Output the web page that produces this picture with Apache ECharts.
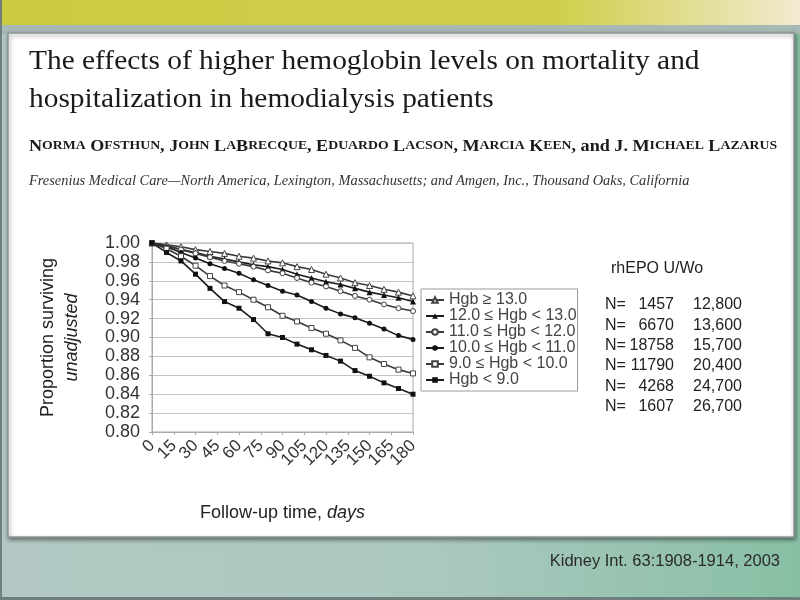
<!DOCTYPE html>
<html><head><meta charset="utf-8">
<script src="https://cdn.jsdelivr.net/npm/echarts@6/dist/echarts.min.js"></script>
<style>html,body{margin:0;padding:0;background:#fff}#c{width:800px;height:600px}</style>
</head><body><div id="c"></div>
<script>
// ---- data ----
const days = [0,10,20,30,40,50,60,70,80,90,100,110,120,130,140,150,160,170,180];
const xTicks = ['0','15','30','45','60','75','90','105','120','135','150','165','180'];
const yTicks = [0.80,0.82,0.84,0.86,0.88,0.90,0.92,0.94,0.96,0.98,1.00];
const seriesNames = ['Hgb \u2265 13.0','12.0 \u2264 Hgb < 13.0','11.0 \u2264 Hgb < 12.0','10.0 \u2264 Hgb < 11.0','9.0 \u2264 Hgb < 10.0','Hgb < 9.0'];
const hgbGe13   = [1.000,0.998,0.996,0.993,0.991,0.989,0.986,0.984,0.981,0.979,0.975,0.972,0.967,0.963,0.958,0.955,0.951,0.948,0.944];
const hgb12to13 = [1.000,0.997,0.993,0.990,0.986,0.983,0.980,0.977,0.975,0.972,0.967,0.963,0.959,0.956,0.952,0.948,0.945,0.942,0.938];
const hgb11to12 = [1.000,0.997,0.993,0.989,0.985,0.981,0.978,0.975,0.971,0.968,0.963,0.958,0.954,0.949,0.944,0.940,0.935,0.931,0.928];
const hgb10to11 = [1.000,0.996,0.990,0.984,0.978,0.973,0.968,0.961,0.955,0.949,0.945,0.938,0.931,0.925,0.921,0.915,0.909,0.902,0.898];
const hgb9to10  = [1.000,0.994,0.986,0.976,0.965,0.955,0.948,0.940,0.932,0.923,0.917,0.910,0.904,0.897,0.889,0.879,0.872,0.866,0.862];
const hgbLt9    = [1.000,0.990,0.981,0.967,0.952,0.938,0.931,0.919,0.904,0.900,0.893,0.887,0.881,0.875,0.865,0.859,0.852,0.846,0.840];
const groupN    = ['1457','6670','18758','11790','4268','1607'];
const groupEPO  = ['12,800','13,600','15,700','20,400','24,700','26,700'];

const titleLines = ['The effects of higher hemoglobin levels on mortality and','hospitalization in hemodialysis patients'];
const authors = 'Norma Ofsthun, John LaBrecque, Eduardo Lacson, Marcia Keen, and J. Michael Lazarus';
const affiliation = 'Fresenius Medical Care\u2014North America, Lexington, Massachusetts; and Amgen, Inc., Thousand Oaks, California';
const citation = 'Kidney Int. 63:1908-1914, 2003';

// ---- styles ----
const SANS = '"Liberation Sans", Arial, sans-serif';
const SERIF = '"Liberation Serif", "Times New Roman", serif';
const allSeries = [hgbGe13,hgb12to13,hgb11to12,hgb10to11,hgb9to10,hgbLt9];
const symbols = ['triangle','triangle','circle','circle','rect','rect'];
const filled = [false,true,false,true,false,true];

function smallCaps(str){
  const words = str.split(' ');
  let out = '';
  words.forEach((w, wi) => {
    if (wi > 0) out += '{B| }';
    if (w === 'and') { out += '{N|and}'; return; }
    let cur = null, buf = '';
    for (const ch of w) {
      const st = (ch >= 'a' && ch <= 'z') ? 'S' : 'B';
      const c = st === 'S' ? ch.toUpperCase() : ch;
      if (st !== cur) { if (buf) out += '{' + cur + '|' + buf + '}'; cur = st; buf = c; }
      else buf += c;
    }
    if (buf) out += '{' + cur + '|' + buf + '}';
  });
  return out;
}

const chart = echarts.init(document.getElementById('c'), null, {renderer:'canvas'});

const graphics = [
  {type:'rect', z:-20, shape:{x:0,y:0,width:800,height:600},
   style:{fill:new echarts.graphic.LinearGradient(0,0,1,0,[{offset:0,color:'#b3c8c4'},{offset:0.55,color:'#abc8bf'},{offset:1,color:'#88bfa4'}])}},
  {type:'rect', z:-19, shape:{x:0,y:0,width:800,height:25},
   style:{fill:new echarts.graphic.LinearGradient(0,0,1,0,[{offset:0,color:'#cbcb42'},{offset:0.7,color:'#cfcf4c'},{offset:1,color:'#f2ead0'}])}},
  {type:'rect', z:-19, shape:{x:0,y:25,width:800,height:9}, style:{fill:'#a8b8b5'}},
  {type:'rect', z:-18, shape:{x:0,y:0,width:2,height:600}, style:{fill:'#6f7f7d'}},
  {type:'rect', z:-18, shape:{x:0,y:597,width:800,height:3}, style:{fill:'#6f7f7d'}},
  {type:'rect', z:-17, shape:{x:8,y:33,width:786,height:504},
   style:{fill:'#ffffff', stroke:'#8f9898', lineWidth:1.5, shadowBlur:4, shadowColor:'rgba(0,0,0,0.45)', shadowOffsetX:1, shadowOffsetY:2}},
  {type:'text', z:5, x:29, y:62, scaleX:1.05, style:{x:0, y:0, text:titleLines[0], font:'28px ' + SERIF, fill:'#1a1a1a', verticalAlign:'middle'}},
  {type:'text', z:5, x:29, y:100, scaleX:1.05, style:{x:0, y:0, text:titleLines[1], font:'28px ' + SERIF, fill:'#1a1a1a', verticalAlign:'middle'}},
  {type:'text', z:5, x:29, y:146, scaleX:1.035, style:{x:0, y:0, text:smallCaps(authors), verticalAlign:'middle',
    rich:{B:{font:'bold 17.5px ' + SERIF, fill:'#1a1a1a'}, S:{font:'bold 13.3px ' + SERIF, fill:'#1a1a1a'}, N:{font:'bold 17.5px ' + SERIF, fill:'#1a1a1a'}}}},
  {type:'text', z:5, style:{x:29, y:181, text:affiliation, font:'italic 14.4px ' + SERIF, fill:'#333', verticalAlign:'middle'}},
  {type:'text', z:5, style:{x:611, y:269, text:'rhEPO U/Wo', font:'16px ' + SANS, fill:'#222', verticalAlign:'middle'}},
  {type:'text', z:5, style:{x:780, y:561, text:citation, font:'16.5px ' + SANS, fill:'#2a2a2a', align:'right', verticalAlign:'middle'}}
];
groupN.forEach((n, i) => {
  const y = 305 + i * 20.3;
  graphics.push({type:'text', z:5, style:{x:605, y:y, text:'N=', font:'16px ' + SANS, fill:'#222', verticalAlign:'middle'}});
  graphics.push({type:'text', z:5, style:{x:674, y:y, text:n, font:'16px ' + SANS, fill:'#222', align:'right', verticalAlign:'middle'}});
  graphics.push({type:'text', z:5, style:{x:742, y:y, text:groupEPO[i], font:'16px ' + SANS, fill:'#222', align:'right', verticalAlign:'middle'}});
});

const series = allSeries.map((vals, i) => ({
  name: seriesNames[i],
  type: 'line',
  xAxisIndex: 0,
  data: vals.map((v, j) => [days[j], v]),
  symbol: symbols[i],
  symbolSize: symbols[i] === 'triangle' ? 6 : 5,
  showSymbol: true,
  lineStyle: {color: filled[i] ? '#1c1c1c' : '#3a3a3a', width: 1.6},
  itemStyle: {color: filled[i] ? '#111' : '#fff', borderColor: filled[i] ? '#111' : '#444', borderWidth: filled[i] ? 0 : 1},
  emphasis: {disabled: true},
  animation: false,
  z: 3
}));

chart.setOption({
  animation: false,
  textStyle: {fontFamily: SANS},
  graphic: {elements: graphics},
  grid: {left:152, top:243, width:261, height:189, show:true, borderColor:'#a8a8a8', borderWidth:1, containLabel:false},
  legend: {
    orient:'vertical', left:421, top:289, data:seriesNames,
    backgroundColor:'#fff', borderColor:'#9a9a9a', borderWidth:1, padding:[3,1,3,4],
    itemWidth:18, itemHeight:7, itemGap:0,
    textStyle:{fontSize:16, color:'#444', fontFamily:SANS, lineHeight:15.5}
  },
  xAxis: [{
    type:'value', min:0, max:180, interval:15,
    name:'{a|Follow-up time, }{b|days}', nameLocation:'middle', nameGap:72,
    nameTextStyle:{rich:{a:{fontSize:18, color:'#222', fontFamily:SANS}, b:{fontSize:18, color:'#222', fontStyle:'italic', fontFamily:SANS}}},
    axisLine:{show:true, lineStyle:{color:'#a8a8a8'}},
    axisTick:{show:true, length:3, lineStyle:{color:'#a8a8a8'}},
    splitLine:{show:false},
    axisLabel:{show:false}
  }, {
    type:'category', data:xTicks, boundaryGap:false, position:'bottom',
    axisLine:{show:false}, axisTick:{show:false}, splitLine:{show:false},
    axisLabel:{interval:0, rotate:45, fontSize:17, color:'#333', margin:11}
  }],
  yAxis: {
    type:'value', min:0.8, max:1.0, interval:0.02,
    name:'{a|Proportion surviving}\n{b|unadjusted}', nameLocation:'middle', nameGap:68, nameRotate:90,
    nameTextStyle:{rich:{a:{fontSize:18, color:'#222', fontFamily:SANS, lineHeight:24}, b:{fontSize:18, color:'#222', fontStyle:'italic', fontFamily:SANS, lineHeight:24}}},
    axisLine:{show:true, lineStyle:{color:'#a8a8a8'}},
    axisTick:{show:true, length:3, lineStyle:{color:'#a8a8a8'}},
    splitLine:{show:true, lineStyle:{color:'#c4c4c4', width:1}},
    axisLabel:{fontSize:18, color:'#333', margin:12, showMinLabel:true, showMaxLabel:true,
      formatter: v => { const t = yTicks.find(k => Math.abs(k - v) < 1e-6); return t === undefined ? '' : t.toFixed(2); }}
  },
  series: series
});
</script></body></html>
